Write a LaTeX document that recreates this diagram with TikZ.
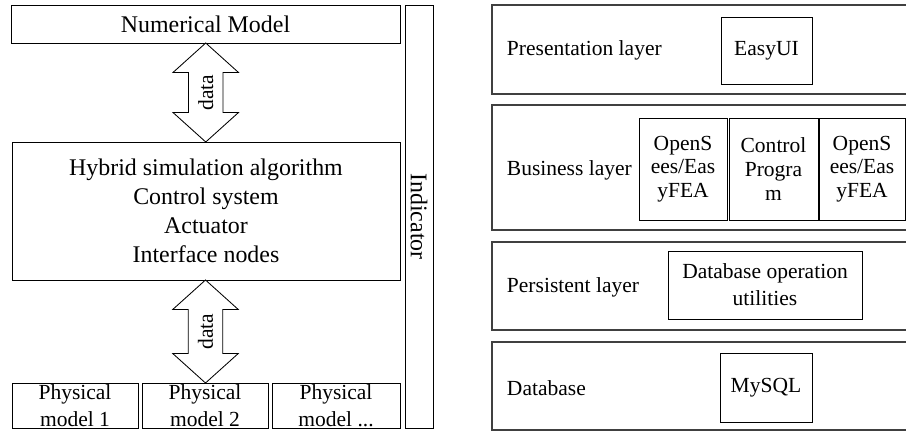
\documentclass[tikz,border=0pt]{standalone}
\usepackage{fontspec}
\setmainfont{Liberation Serif}
\usetikzlibrary{shapes.arrows,calc}

% one drawing unit
\newcommand{\pxu}{0.025cm}

\begin{document}
\begin{tikzpicture}[x=\pxu, y=-\pxu,
  box/.style={draw, line width=0.6pt, inner sep=0pt, align=center},
  bigtxt/.style={font=\fontsize{17}{20.6}\selectfont},
  smalltxt/.style={font=\fontsize{15.3}{19.2}\selectfont},
  tighttxt/.style={font=\fontsize{15.3}{16.8}\selectfont},
  layer/.style={draw=black!75, line width=0.8pt},
  dataarrow/.style={shape=double arrow, draw, fill=white, line width=0.6pt,
    rotate=90, inner xsep=0pt, inner ysep=6.6pt,
    double arrow head extend=11pt, double arrow tip angle=96,
    font=\fontsize{15.3}{18}\selectfont}]

\useasboundingbox (0,0) rectangle (906,431);

% Left part: hybrid simulation
\node[box, bigtxt, minimum width=389*\pxu, minimum height=38*\pxu] (num) at (205.5,24) {Numerical Model};
\node[box, bigtxt, minimum width=388*\pxu, minimum height=138*\pxu] (hyb) at (206,211)
  {Hybrid simulation algorithm\\Control system\\Actuator\\Interface nodes};

% physical substructures
\node[box, smalltxt, minimum width=126*\pxu, minimum height=45*\pxu] (phys1) at (75,405.5) {Physical\\model 1};
\node[box, smalltxt, minimum width=126*\pxu, minimum height=45*\pxu] (phys2) at (205,405.5) {Physical\\model 2};
\node[box, smalltxt, minimum width=128*\pxu, minimum height=45*\pxu] (phys3) at (336,405.5) {Physical\\model ...};

% indicator bar
\node[box, bigtxt, rotate=-90, minimum width=423*\pxu, minimum height=28*\pxu] (ind) at (419,216.5) {Indicator};

% data exchange
\node[dataarrow, minimum height=99*\pxu] (arr1) at ($(num.south)!0.5!(hyb.north)$) {data};
\node[dataarrow, minimum height=103*\pxu] (arr2) at ($(hyb.south)!0.5!(phys2.north)$) {data};

% Right part: layers
\draw[layer] (930,5) -| (492,94) -- (930,94);
\draw[layer] (930,105) -| (492,230) -- (930,230);
\draw[layer] (930,242) -| (492,330) -- (930,330);
\draw[layer] (930,342) -| (492,430) -- (930,430);

\node[smalltxt, anchor=west] (presname) at (502,50) {Presentation layer};
\node[smalltxt, anchor=west] (busname) at (502,170) {Business layer};
\node[smalltxt, anchor=west] (persname) at (502,287) {Persistent layer};
\node[smalltxt, anchor=west] (dbname) at (502,388) {Database};

\node[box, smalltxt, minimum width=91*\pxu, minimum height=67*\pxu] (easyui) at (766.5,50.5) {EasyUI};

\node[box, tighttxt, minimum width=88*\pxu, minimum height=102*\pxu] (fea1) at (683,169) {OpenS\\ees/Eas\\yFEA};
\node[box, tighttxt, minimum width=89*\pxu, minimum height=102*\pxu] (ctrl) at (773.5,169) {Control\\Progra\\m};
\node[box, tighttxt, minimum width=86*\pxu, minimum height=102*\pxu] (fea2) at (862,169) {OpenS\\ees/Eas\\yFEA};

\node[box, smalltxt, minimum width=194*\pxu, minimum height=68*\pxu] (dbutil) at (765,285) {Database operation\\utilities};
\node[box, smalltxt, minimum width=92*\pxu, minimum height=69*\pxu] (mysql) at (766,387.5) {MySQL};

\end{tikzpicture}
\end{document}
